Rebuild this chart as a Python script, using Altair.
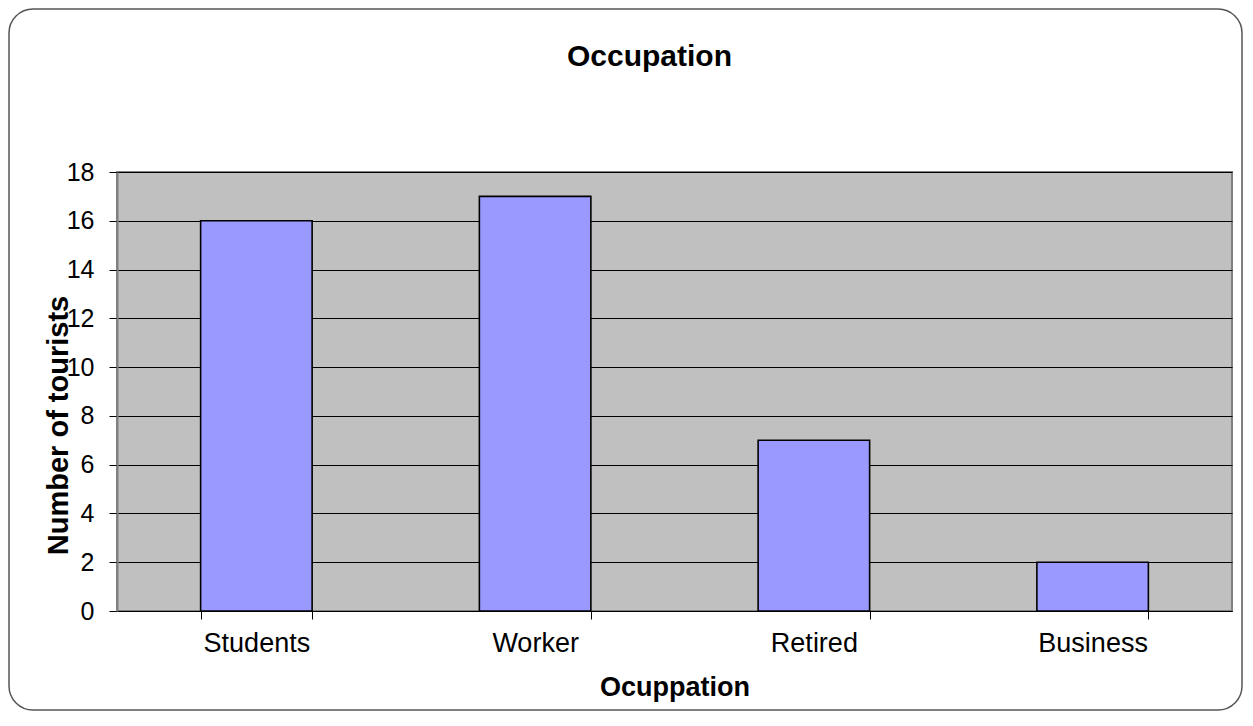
import altair as alt
import pandas as pd

categories = ["Students", "Worker", "Retired", "Business"]
tourists = [16, 17, 7, 2]
y_ticks = [0, 2, 4, 6, 8, 10, 12, 14, 16, 18]

df = pd.DataFrame({"Occupation": categories, "Tourists": tourists})

W, H = 1115, 439
FONT = "Liberation Sans"

border = alt.Chart(pd.DataFrame({"k": [0]})).mark_rect(
    fillOpacity=0, stroke="#555555", strokeWidth=1.5, cornerRadius=24
).encode(
    x=alt.value(-108), x2=alt.value(W + 10),
    y=alt.value(-163), y2=alt.value(H + 99),
)

bars = alt.Chart(df).mark_bar(
    fill="#9999FF", stroke="#000000", strokeWidth=1.6
).encode(
    x=alt.X(
        "Occupation:N", sort=categories,
        scale=alt.Scale(paddingInner=0.6, paddingOuter=0.3),
        axis=alt.Axis(
            title="Ocuppation", labelAngle=0, tickBand="extent",
            labelFont=FONT, labelFontSize=27, labelColor="#000000", labelPadding=11,
            tickColor="#000000", tickSize=8, tickWidth=1,
            domainColor="#000000", domainWidth=1, grid=False,
            titleFont=FONT, titleFontSize=27, titleFontWeight="bold", titleColor="#000000",
            titleBaseline="alphabetic", titleY=84,
        ),
    ),
    y=alt.Y(
        "Tourists:Q",
        scale=alt.Scale(domain=[0, 18], nice=False),
        axis=alt.Axis(
            values=y_ticks, title="Number of tourists",
            labelFont=FONT, labelFontSize=25, labelColor="#000000", labelPadding=15,
            tickColor="#000000", tickSize=8, tickWidth=1,
            domainColor="#808080", domainWidth=2,
            grid=True, gridColor="#000000", gridWidth=1, gridOpacity=1,
            titleFont=FONT, titleFontSize=29, titleFontWeight="bold", titleColor="#000000",
            titleAngle=270, titleAlign="center", titleBaseline="middle",
            titleX=-59, titleY=253,
        ),
    ),
)

chart = alt.layer(border, bars).properties(
    width=W, height=H,
    autosize=alt.AutoSizeParams(type="none"),
    padding={"left": 109, "top": 164, "right": 11, "bottom": 101},
    title=alt.TitleParams(
        "Occupation", font=FONT, fontSize=30, fontWeight="bold", color="#000000",
        anchor="middle", frame="group", dx=-25, baseline="alphabetic", offset=0, dy=88,
    ),
).configure(
    background="#FFFFFF"
).configure_view(
    fill="#C0C0C0", stroke="#808080", strokeWidth=2
)

chart.save("out.html", embed_options={"renderer": "svg", "actions": False})
